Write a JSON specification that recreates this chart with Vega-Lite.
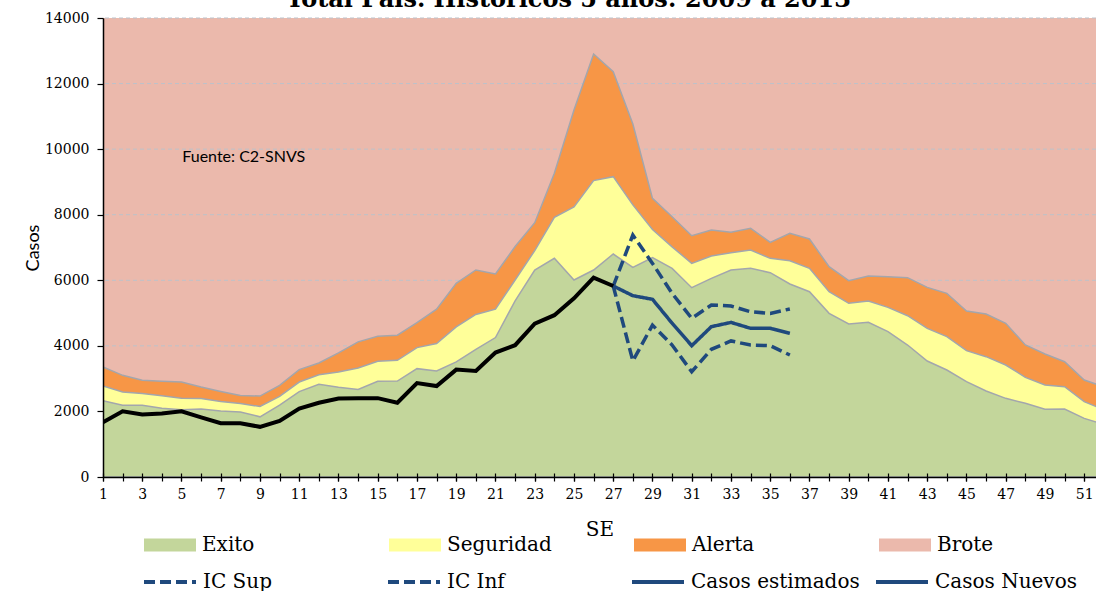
{
  "$schema": "https://vega.github.io/schema/vega-lite/v6.json",
  "width": 993,
  "height": 459,
  "autosize": {"type": "none"},
  "padding": {"left": 103, "top": 18, "right": 0, "bottom": 114},
  "background": "white",
  "config": {"view": {"stroke": null}, "font": "DejaVu Serif", "axis": {"labelOverlap": false}},
  "title": {"text": "Total País. Históricos 5 años: 2009 a 2013", "font": "DejaVu Serif", "fontSize": 24, "fontWeight": "bold", "color": "black", "anchor": "middle", "frame": "group", "dx": -31, "dy": 20, "offset": 0, "baseline": "alphabetic"},
  "resolve": {"axis": {"x": "independent"}},
  "datasets": {
    "umbrales": [
      {"SE": 1, "Exito": 2330, "Seguridad": 2780, "Alerta": 3356, "Brote": 14000},
      {"SE": 2, "Exito": 2190, "Seguridad": 2595, "Alerta": 3101, "Brote": 14000},
      {"SE": 3, "Exito": 2190, "Seguridad": 2545, "Alerta": 2948, "Brote": 14000},
      {"SE": 4, "Exito": 2100, "Seguridad": 2475, "Alerta": 2917, "Brote": 14000},
      {"SE": 5, "Exito": 2050, "Seguridad": 2405, "Alerta": 2897, "Brote": 14000},
      {"SE": 6, "Exito": 2075, "Seguridad": 2395, "Alerta": 2744, "Brote": 14000},
      {"SE": 7, "Exito": 2010, "Seguridad": 2305, "Alerta": 2611, "Brote": 14000},
      {"SE": 8, "Exito": 1985, "Seguridad": 2240, "Alerta": 2489, "Brote": 14000},
      {"SE": 9, "Exito": 1835, "Seguridad": 2150, "Alerta": 2468, "Brote": 14000},
      {"SE": 10, "Exito": 2190, "Seguridad": 2460, "Alerta": 2795, "Brote": 14000},
      {"SE": 11, "Exito": 2605, "Seguridad": 2897, "Alerta": 3274, "Brote": 14000},
      {"SE": 12, "Exito": 2825, "Seguridad": 3121, "Alerta": 3478, "Brote": 14000},
      {"SE": 13, "Exito": 2740, "Seguridad": 3203, "Alerta": 3784, "Brote": 14000},
      {"SE": 14, "Exito": 2672, "Seguridad": 3325, "Alerta": 4121, "Brote": 14000},
      {"SE": 15, "Exito": 2917, "Seguridad": 3529, "Alerta": 4294, "Brote": 14000},
      {"SE": 16, "Exito": 2927, "Seguridad": 3560, "Alerta": 4325, "Brote": 14000},
      {"SE": 17, "Exito": 3305, "Seguridad": 3947, "Alerta": 4712, "Brote": 14000},
      {"SE": 18, "Exito": 3233, "Seguridad": 4070, "Alerta": 5120, "Brote": 14000},
      {"SE": 19, "Exito": 3509, "Seguridad": 4580, "Alerta": 5906, "Brote": 14000},
      {"SE": 20, "Exito": 3896, "Seguridad": 4957, "Alerta": 6314, "Brote": 14000},
      {"SE": 21, "Exito": 4253, "Seguridad": 5120, "Alerta": 6191, "Brote": 14000},
      {"SE": 22, "Exito": 5375, "Seguridad": 6008, "Alerta": 7030, "Brote": 14000},
      {"SE": 23, "Exito": 6314, "Seguridad": 6905, "Alerta": 7757, "Brote": 14000},
      {"SE": 24, "Exito": 6671, "Seguridad": 7920, "Alerta": 9262, "Brote": 14000},
      {"SE": 25, "Exito": 6008, "Seguridad": 8240, "Alerta": 11194, "Brote": 14000},
      {"SE": 26, "Exito": 6313, "Seguridad": 9040, "Alerta": 12902, "Brote": 14000},
      {"SE": 27, "Exito": 6801, "Seguridad": 9160, "Alerta": 12363, "Brote": 14000},
      {"SE": 28, "Exito": 6394, "Seguridad": 8300, "Alerta": 10767, "Brote": 14000},
      {"SE": 29, "Exito": 6689, "Seguridad": 7550, "Alerta": 8500, "Brote": 14000},
      {"SE": 30, "Exito": 6364, "Seguridad": 7020, "Alerta": 7940, "Brote": 14000},
      {"SE": 31, "Exito": 5774, "Seguridad": 6516, "Alerta": 7360, "Brote": 14000},
      {"SE": 32, "Exito": 6059, "Seguridad": 6740, "Alerta": 7534, "Brote": 14000},
      {"SE": 33, "Exito": 6313, "Seguridad": 6842, "Alerta": 7463, "Brote": 14000},
      {"SE": 34, "Exito": 6364, "Seguridad": 6923, "Alerta": 7585, "Brote": 14000},
      {"SE": 35, "Exito": 6232, "Seguridad": 6669, "Alerta": 7158, "Brote": 14000},
      {"SE": 36, "Exito": 5886, "Seguridad": 6598, "Alerta": 7433, "Brote": 14000},
      {"SE": 37, "Exito": 5652, "Seguridad": 6364, "Alerta": 7259, "Brote": 14000},
      {"SE": 38, "Exito": 4992, "Seguridad": 5652, "Alerta": 6415, "Brote": 14000},
      {"SE": 39, "Exito": 4666, "Seguridad": 5297, "Alerta": 5988, "Brote": 14000},
      {"SE": 40, "Exito": 4717, "Seguridad": 5368, "Alerta": 6130, "Brote": 14000},
      {"SE": 41, "Exito": 4432, "Seguridad": 5175, "Alerta": 6110, "Brote": 14000},
      {"SE": 42, "Exito": 4026, "Seguridad": 4920, "Alerta": 6079, "Brote": 14000},
      {"SE": 43, "Exito": 3538, "Seguridad": 4534, "Alerta": 5784, "Brote": 14000},
      {"SE": 44, "Exito": 3263, "Seguridad": 4280, "Alerta": 5601, "Brote": 14000},
      {"SE": 45, "Exito": 2908, "Seguridad": 3853, "Alerta": 5063, "Brote": 14000},
      {"SE": 46, "Exito": 2623, "Seguridad": 3670, "Alerta": 4971, "Brote": 14000},
      {"SE": 47, "Exito": 2399, "Seguridad": 3416, "Alerta": 4687, "Brote": 14000},
      {"SE": 48, "Exito": 2247, "Seguridad": 3040, "Alerta": 4026, "Brote": 14000},
      {"SE": 49, "Exito": 2064, "Seguridad": 2806, "Alerta": 3751, "Brote": 14000},
      {"SE": 50, "Exito": 2074, "Seguridad": 2755, "Alerta": 3517, "Brote": 14000},
      {"SE": 51, "Exito": 1789, "Seguridad": 2297, "Alerta": 2958, "Brote": 14000},
      {"SE": 52, "Exito": 1600, "Seguridad": 2050, "Alerta": 2750, "Brote": 14000}
    ],
    "casos": [
      {"SE": 1, "serie": "Casos Nuevos", "casos": 1670},
      {"SE": 2, "serie": "Casos Nuevos", "casos": 2005},
      {"SE": 3, "serie": "Casos Nuevos", "casos": 1905},
      {"SE": 4, "serie": "Casos Nuevos", "casos": 1935},
      {"SE": 5, "serie": "Casos Nuevos", "casos": 2005},
      {"SE": 6, "serie": "Casos Nuevos", "casos": 1820},
      {"SE": 7, "serie": "Casos Nuevos", "casos": 1640},
      {"SE": 8, "serie": "Casos Nuevos", "casos": 1640},
      {"SE": 9, "serie": "Casos Nuevos", "casos": 1530},
      {"SE": 10, "serie": "Casos Nuevos", "casos": 1710},
      {"SE": 11, "serie": "Casos Nuevos", "casos": 2090},
      {"SE": 12, "serie": "Casos Nuevos", "casos": 2265},
      {"SE": 13, "serie": "Casos Nuevos", "casos": 2395},
      {"SE": 14, "serie": "Casos Nuevos", "casos": 2405},
      {"SE": 15, "serie": "Casos Nuevos", "casos": 2405},
      {"SE": 16, "serie": "Casos Nuevos", "casos": 2265},
      {"SE": 17, "serie": "Casos Nuevos", "casos": 2865},
      {"SE": 18, "serie": "Casos Nuevos", "casos": 2775},
      {"SE": 19, "serie": "Casos Nuevos", "casos": 3275},
      {"SE": 20, "serie": "Casos Nuevos", "casos": 3235},
      {"SE": 21, "serie": "Casos Nuevos", "casos": 3795},
      {"SE": 22, "serie": "Casos Nuevos", "casos": 4020},
      {"SE": 23, "serie": "Casos Nuevos", "casos": 4680},
      {"SE": 24, "serie": "Casos Nuevos", "casos": 4935},
      {"SE": 25, "serie": "Casos Nuevos", "casos": 5450},
      {"SE": 26, "serie": "Casos Nuevos", "casos": 6080},
      {"SE": 27, "serie": "Casos Nuevos", "casos": 5825},
      {"SE": 27, "serie": "Casos estimados", "casos": 5825},
      {"SE": 28, "serie": "Casos estimados", "casos": 5530},
      {"SE": 29, "serie": "Casos estimados", "casos": 5420},
      {"SE": 30, "serie": "Casos estimados", "casos": 4690},
      {"SE": 31, "serie": "Casos estimados", "casos": 4005},
      {"SE": 32, "serie": "Casos estimados", "casos": 4585},
      {"SE": 33, "serie": "Casos estimados", "casos": 4715},
      {"SE": 34, "serie": "Casos estimados", "casos": 4535},
      {"SE": 35, "serie": "Casos estimados", "casos": 4535},
      {"SE": 36, "serie": "Casos estimados", "casos": 4380},
      {"SE": 27, "serie": "IC Sup", "casos": 5825},
      {"SE": 28, "serie": "IC Sup", "casos": 7380},
      {"SE": 29, "serie": "IC Sup", "casos": 6515},
      {"SE": 30, "serie": "IC Sup", "casos": 5600},
      {"SE": 31, "serie": "IC Sup", "casos": 4840},
      {"SE": 32, "serie": "IC Sup", "casos": 5245},
      {"SE": 33, "serie": "IC Sup", "casos": 5215},
      {"SE": 34, "serie": "IC Sup", "casos": 5040},
      {"SE": 35, "serie": "IC Sup", "casos": 4990},
      {"SE": 36, "serie": "IC Sup", "casos": 5125},
      {"SE": 27, "serie": "IC Inf", "casos": 5825},
      {"SE": 28, "serie": "IC Inf", "casos": 3540},
      {"SE": 29, "serie": "IC Inf", "casos": 4635},
      {"SE": 30, "serie": "IC Inf", "casos": 4025},
      {"SE": 31, "serie": "IC Inf", "casos": 3210},
      {"SE": 32, "serie": "IC Inf", "casos": 3895},
      {"SE": 33, "serie": "IC Inf", "casos": 4150},
      {"SE": 34, "serie": "IC Inf", "casos": 4025},
      {"SE": 35, "serie": "IC Inf", "casos": 4005},
      {"SE": 36, "serie": "IC Inf", "casos": 3720}
    ],
    "grilla": [
      {"valor": 2000}, {"valor": 4000}, {"valor": 6000}, {"valor": 8000},
      {"valor": 10000}, {"valor": 12000}, {"valor": 14000}
    ]
  },
  "layer": [
    {
      "data": {"name": "umbrales"},
      "mark": {"type": "area", "clip": true},
      "encoding": {
        "x": {"field": "SE", "type": "quantitative", "title": "SE",
          "scale": {"domain": [1, 51.6], "nice": false, "zero": false},
          "axis": {"orient": "bottom", "values": [1,3,5,7,9,11,13,15,17,19,21,23,25,27,29,31,33,35,37,39,41,43,45,47,49,51],
            "format": "d", "labelFont": "DejaVu Serif", "labelFontSize": 14, "labelColor": "black", "labelPadding": 6,
            "labelOverlap": false, "labelFlush": false, "labelBound": false,
            "tickColor": "black", "tickSize": 4, "tickWidth": 1.2, "domainColor": "black", "domainWidth": 1.5, "grid": false, "zindex": 2,
            "titleFont": "DejaVu Serif", "titleFontSize": 20, "titleFontWeight": "normal", "titleColor": "black", "titlePadding": 18}},
        "y": {"field": "Brote", "type": "quantitative", "title": "Casos", "stack": null,
          "scale": {"domain": [0, 14000], "nice": false},
          "axis": {"values": [0,2000,4000,6000,8000,10000,12000,14000], "format": "d",
            "labelFont": "DejaVu Serif", "labelFontSize": 14, "labelColor": "black", "labelPadding": 8,
            "tickColor": "black", "tickSize": 6, "tickWidth": 1.2, "domainColor": "black", "domainWidth": 1.5, "grid": false, "zindex": 2,
            "titleFont": "Lato", "titleFontSize": 18, "titleFontWeight": "normal", "titleColor": "black", "titlePadding": 2}},
        "fill": {"datum": "Brote", "type": "nominal",
          "scale": {"domain": ["Exito", "Seguridad", "Alerta", "Brote"], "range": ["#C3D69B", "#FFFF99", "#F79646", "#EBB9AC"]},
          "legend": {"title": null, "orient": "none", "legendX": 40, "legendY": 500, "direction": "horizontal", "columns": 4, "gridAlign": "all", "columnPadding": 79, "padding": 0,
            "symbolType": "M-1,-0.25H1V0.25H-1Z", "symbolSize": 2704, "symbolStrokeColor": "#A6A6A6", "symbolStrokeWidth": 1.5, "symbolOpacity": 1,
            "labelFont": "DejaVu Serif", "labelFontSize": 20, "labelColor": "black", "labelOffset": 5, "labelLimit": 400,
            "encode": {"symbols": {"update": {"fill": {"signal": "datum.label === 'Brote' ? '#D39492' : scale('fill', datum.value)"}}}}}}
      }
    },
    {
      "data": {"name": "grilla"},
      "mark": {"type": "rule", "color": "#BCC2CA", "strokeDash": [4, 3], "strokeWidth": 1},
      "encoding": {"y": {"field": "valor", "type": "quantitative", "title": "Casos"}}
    },
    {
      "data": {"name": "umbrales"},
      "mark": {"type": "area", "clip": true, "stroke": "#A3A6AD", "strokeWidth": 1.5},
      "encoding": {
        "x": {"field": "SE", "type": "quantitative", "axis": null},
        "y": {"field": "Alerta", "type": "quantitative", "title": "Casos", "stack": null},
        "fill": {"datum": "Alerta", "type": "nominal"}
      }
    },
    {
      "data": {"name": "umbrales"},
      "mark": {"type": "area", "clip": true, "stroke": "#A3A6AD", "strokeWidth": 1.5},
      "encoding": {
        "x": {"field": "SE", "type": "quantitative", "axis": null},
        "y": {"field": "Seguridad", "type": "quantitative", "title": "Casos", "stack": null},
        "fill": {"datum": "Seguridad", "type": "nominal"}
      }
    },
    {
      "data": {"name": "umbrales"},
      "mark": {"type": "area", "clip": true, "stroke": "#A3A6AD", "strokeWidth": 1.5},
      "encoding": {
        "x": {"field": "SE", "type": "quantitative", "axis": null},
        "y": {"field": "Exito", "type": "quantitative", "title": "Casos", "stack": null},
        "fill": {"datum": "Exito", "type": "nominal"}
      }
    },
    {
      "data": {"values": [{}]},
      "mark": {"type": "text", "text": "Fuente: C2-SNVS", "font": "Lato", "fontSize": 16, "align": "left", "baseline": "middle", "color": "black"},
      "encoding": {
        "x": {"datum": 5.04, "type": "quantitative", "axis": null},
        "y": {"datum": 9770, "type": "quantitative"}
      }
    },
    {
      "data": {"name": "casos"},
      "transform": [{"filter": "datum.serie !== 'Casos Nuevos'"}],
      "mark": {"type": "line", "strokeWidth": 3.5, "clip": true},
      "encoding": {
        "x": {"field": "SE", "type": "quantitative",
          "axis": {"orient": "bottom", "values": [1,2,3,4,5,6,7,8,9,10,11,12,13,14,15,16,17,18,19,20,21,22,23,24,25,26,27,28,29,30,31,32,33,34,35,36,37,38,39,40,41,42,43,44,45,46,47,48,49,50,51],
            "labels": false, "domain": false, "title": null, "grid": false, "tickColor": "black", "tickSize": -4, "tickWidth": 1.2, "zindex": 2}},
        "y": {"field": "casos", "type": "quantitative", "title": "Casos"},
        "stroke": {"field": "serie", "type": "nominal",
          "scale": {"domain": ["IC Sup", "IC Inf", "Casos estimados", "Casos Nuevos"], "range": ["#1F497D", "#1F497D", "#1F497D", "#1F497D"]},
          "legend": {"title": null, "orient": "none", "legendX": 39, "legendY": 536, "direction": "horizontal", "columns": 4, "gridAlign": "all", "columnPadding": 8, "padding": 0,
            "symbolType": "stroke", "symbolSize": 2704, "symbolStrokeWidth": 4,
            "labelFont": "DejaVu Serif", "labelFontSize": 20, "labelColor": "black", "labelOffset": 5, "labelLimit": 400}},
        "strokeDash": {"field": "serie", "type": "nominal",
          "scale": {"domain": ["IC Sup", "IC Inf", "Casos estimados", "Casos Nuevos"], "range": [[11, 5], [11, 5], [1, 0], [1, 0]]},
          "legend": {"title": null, "orient": "none", "legendX": 39, "legendY": 536, "direction": "horizontal", "columns": 4, "gridAlign": "all", "columnPadding": 8, "padding": 0,
            "symbolType": "stroke", "symbolSize": 2704, "symbolStrokeWidth": 4,
            "labelFont": "DejaVu Serif", "labelFontSize": 20, "labelColor": "black", "labelOffset": 5, "labelLimit": 400}}
      }
    },
    {
      "data": {"name": "casos"},
      "transform": [{"filter": "datum.serie === 'Casos Nuevos'"}],
      "mark": {"type": "line", "strokeWidth": 4, "color": "black", "clip": true},
      "encoding": {
        "x": {"field": "SE", "type": "quantitative",
          "axis": {"orient": "bottom", "values": [1,2,3,4,5,6,7,8,9,10,11,12,13,14,15,16,17,18,19,20,21,22,23,24,25,26,27,28,29,30,31,32,33,34,35,36,37,38,39,40,41,42,43,44,45,46,47,48,49,50,51],
            "labels": false, "domain": false, "title": null, "grid": false, "tickColor": "black", "tickSize": 4, "tickWidth": 1.2, "zindex": 2}},
        "y": {"field": "casos", "type": "quantitative", "title": "Casos"}
      }
    }
  ]
}
